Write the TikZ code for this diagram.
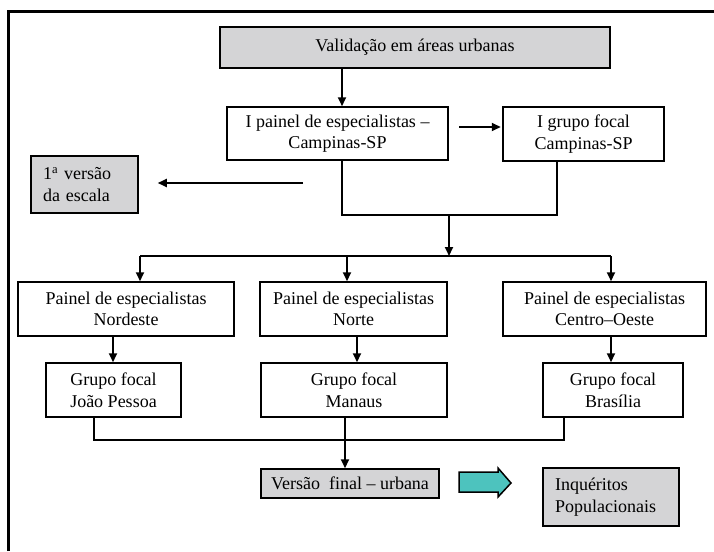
\documentclass[tikz,border=0pt]{standalone}
\usepackage{fontspec}
\setmainfont{Liberation Serif}
\usetikzlibrary{arrows.meta,calc}
\definecolor{boxgray}{RGB}{212,212,214}
\definecolor{teal1}{RGB}{77,195,190}
\tikzset{
  box/.style={draw=black, line width=1.5pt, inner sep=0pt, align=center,
    font=\fontsize{18}{21.5}\selectfont},
  graybox/.style={box, fill=boxgray},
  arr/.style={line width=2pt, -{Triangle[length=9pt,width=8pt]}},
  link/.style={line width=1.3pt},
}
\begin{document}
\begin{tikzpicture}[x=1pt,y=-1pt]
\useasboundingbox (0,0) rectangle (714,551);
% frame
\draw[line width=3pt] (8,551) -- (8,12) -- (714,12);
% nodes
\node[graybox, minimum width=390pt, minimum height=41pt] (val) at (415,47.5) {Validação em áreas urbanas};
\node[box, minimum width=221pt, minimum height=53pt] (ip) at (337.5,133.5) {I painel de especialistas –\\Campinas-SP};
\node[box, minimum width=161pt, minimum height=54pt] (ig) at (583.5,134) {I grupo focal\\Campinas-SP};
\node[graybox, minimum width=107pt, minimum height=57pt, align=left, text width=83pt, inner xsep=12pt] (v1) at (84.5,184.5) {1\textsuperscript{a} versão\\da escala};
\node[box, minimum width=216pt, minimum height=54pt] (pl) at (126,309) {Painel de especialistas\\Nordeste};
\node[box, minimum width=187pt, minimum height=54pt] (pm) at (353.5,309) {Painel de especialistas\\Norte};
\node[box, minimum width=203pt, minimum height=54pt] (pr) at (604.5,309) {Painel de especialistas\\Centro–Oeste};
\node[box, minimum width=135pt, minimum height=54pt] (gl) at (113.5,390) {Grupo focal\\João Pessoa};
\node[box, minimum width=186pt, minimum height=54pt] (gm) at (354,390) {Grupo focal\\Manaus};
\node[box, minimum width=140pt, minimum height=54pt] (gr) at (613,390) {Grupo focal\\Brasília};
\node[graybox, minimum width=178pt, minimum height=29pt] (vf) at (350,483.5) {Versão\ \ final – urbana};
\node[graybox, minimum width=136pt, minimum height=58pt, align=left, text width=112pt, inner xsep=12pt] (iq) at (611,497) {Inquéritos\\Populacionais};
% junction coordinates
\coordinate (j1) at (342,215);
\coordinate (j2) at (557,215);
\coordinate (j3) at (449,215);
\coordinate (j4) at (449,256);
\coordinate (b1) at (140,256);
\coordinate (b2) at (347,256);
\coordinate (b3) at (611,256);
\coordinate (k1) at (94,440);
\coordinate (k2) at (345,440);
\coordinate (k3) at (564,440);
\coordinate (a1) at (459,127);
\coordinate (a2) at (303,183);
% connectors
\draw[arr] (val.south -| j1) -- (ip.north -| j1);
\draw[arr, shorten >=1.5pt] (a1) -- (a1 -| ig.west);
\draw[link] (ip.south -| j1) -- (j1) -- (j2) -- (ig.south -| j2);
\draw[arr] (j3) -- (j4);
\draw[arr, shorten >=19pt] (a2) -- (a2 -| v1.east);
\draw[link] (b1) -- (b3);
\draw[arr] (b1) -- (pl.north -| b1);
\draw[arr] (b2) -- (pm.north -| b2);
\draw[arr] (b3) -- (pr.north -| b3);
\draw[arr] ([xshift=-13pt]pl.south) -- ([xshift=-13pt]pl.south |- gl.north);
\draw[arr] ([xshift=3.5pt]pm.south) -- ([xshift=3.5pt]pm.south |- gm.north);
\draw[arr] ([xshift=6.5pt]pr.south) -- ([xshift=6.5pt]pr.south |- gr.north);
\draw[link] (gl.south -| k1) -- (k1) -- (k3) -- (gr.south -| k3);
\draw[link] (gm.south -| k2) -- (k2);
\draw[arr] (k2) -- (vf.north -| k2);
% block arrow
\draw[fill=teal1, line width=1.5pt, line join=miter]
  (459,472) -- (498,472) -- (498,468) -- (511,483) -- (498,497) -- (498,492) -- (459,492) -- cycle;
\end{tikzpicture}
\end{document}
